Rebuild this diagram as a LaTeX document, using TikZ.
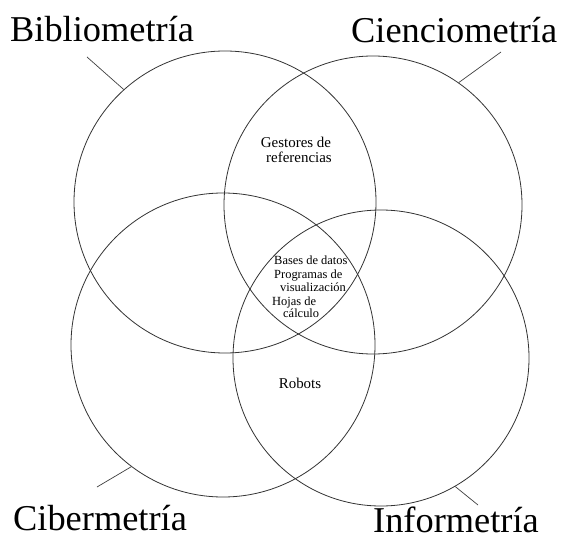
\documentclass[tikz,border=0pt]{standalone}
\usepackage{fontspec}
\setmainfont{Liberation Serif}
\begin{document}
\begin{tikzpicture}[x=1bp,y=-1bp,
  set/.style={circle, draw=black!80, line width=0.8bp, inner sep=0pt},
  title/.style={anchor=base west, inner sep=0pt, font=\fontsize{36.5}{40}\selectfont},
  tiny/.style={anchor=base west, inner sep=0pt, font=\fontsize{12.5}{14}\selectfont},
  mid/.style={anchor=base, inner sep=0pt, font=\fontsize{15}{17}\selectfont},
  leader/.style={draw=black!75, line width=0.7bp}]
\useasboundingbox[fill=white] (0,0) rectangle (562,540);

% the four sets
\node[set, minimum size=302bp] (bib) at (225,202) {};
\node[set, minimum size=298bp] (cie) at (373,205) {};
\node[set, minimum size=304bp] (cib) at (223,345) {};
\node[set, minimum size=296bp] (inf) at (381,358) {};

% set names
\node[title] (tbib) at (10,42) {Bibliometría};
\node[title] (tcie) at (351,43) {Cienciometría};
\node[title] (tcib) at (13,530) {Cibermetría};
\node[title] (tinf) at (373,532) {Informetría};

% leader lines from names to circles
\coordinate (lbib) at (87,57);
\coordinate (lcie) at (501,52);
\coordinate (lcib) at (97,487);
\coordinate (linf) at (478,505);
\draw[leader] (lbib) -- (bib.132);
\draw[leader] (lcie) -- (cie.55);
\draw[leader] (lcib) -- (cib.233);
\draw[leader] (linf) -- (inf.300);

% tools in the overlaps
\node[mid] (ges1) at (296,148) {Gestores de};
\node[mid] (ges2) at (299,163) {referencias};
\node[tiny] (c1) at (274,264) {Bases de datos};
\node[tiny] (c2) at (274,278) {Programas de};
\node[tiny] (c3) at (280,291) {visualización};
\node[tiny] (c4) at (272,305) {Hojas de};
\node[tiny] (c5) at (283,317) {cálculo};
\node[mid] (rob) at (300,388) {Robots};
\end{tikzpicture}
\end{document}
